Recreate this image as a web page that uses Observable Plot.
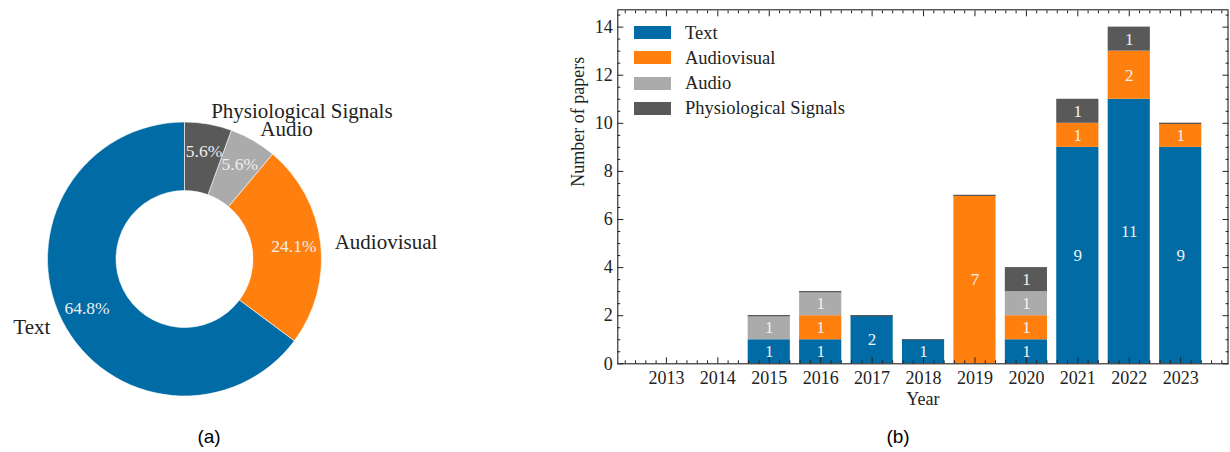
<!DOCTYPE html>
<html>
<head>
<meta charset="utf-8">
<script src="https://cdn.jsdelivr.net/npm/d3@7"></script>
<script src="https://cdn.jsdelivr.net/npm/@observablehq/plot@0.6"></script>
<style>
  html, body { margin: 0; padding: 0; background: #fff; }
  body { width: 1230px; height: 452px; position: relative; overflow: hidden; font-family: "Liberation Serif", serif; color: #222; }
  #pie { position: absolute; left: 0; top: 0; }
  #bar { position: absolute; left: 540px; top: 0; }
  .cap { position: absolute; top: 427px; font-family: "Liberation Sans", Arial, sans-serif; font-size: 19px; line-height: 19px; transform: translateX(-50%); color: #000; }
  #legend { position: absolute; left: 634px; top: 0; }
  .lg { position: absolute; left: 0; height: 20px; white-space: nowrap; }
  .sw { position: absolute; left: 0; top: 3.5px; width: 37px; height: 13px; }
  .lt { position: absolute; left: 51px; top: 0; font-size: 18.5px; line-height: 20px; color: #222; }
</style>
</head>
<body>
<div id="pie"></div>
<div id="bar"></div>
<div id="legend"></div>
<div class="cap" style="left:209px">(a)</div>
<div class="cap" style="left:898px">(b)</div>
<script>
// ---- data ----
const categories = ["Text", "Audiovisual", "Audio", "Physiological Signals"];
const colors = ["#006BA4", "#FF800E", "#ABABAB", "#595959"];
const years = [2013, 2014, 2015, 2016, 2017, 2018, 2019, 2020, 2021, 2022, 2023];
const textCounts        = [0, 0, 1, 1, 2, 1, 0, 1, 9, 11, 9];
const audiovisualCounts = [0, 0, 0, 1, 0, 0, 7, 1, 1, 2, 1];
const audioCounts       = [0, 0, 1, 1, 0, 0, 0, 1, 0, 0, 0];
const physioCounts      = [0, 0, 0, 0, 0, 0, 0, 1, 1, 1, 0];
const yTicks = [0, 2, 4, 6, 8, 10, 12, 14];

const series = [textCounts, audiovisualCounts, audioCounts, physioCounts];
const serif = "Liberation Serif, serif";

// ---- (a) donut ----
const totals = series.map(s => d3.sum(s));
const grand = d3.sum(totals);
const arcs = d3.pie().sort(null).startAngle(0).endAngle(-2 * Math.PI)(totals);
const pieData = arcs.map((a, i) => {
  const mid = (a.startAngle + a.endAngle) / 2;
  return {
    cat: categories[i], color: colors[i], start: a.startAngle, end: a.endAngle,
    pct: (a.value / grand * 100).toFixed(1) + "%",
    lx: 1.1 * Math.sin(mid), ly: 1.1 * Math.cos(mid),
    px: 0.8 * Math.sin(mid), py: 0.8 * Math.cos(mid)
  };
});

function wedges(index, scales) {
  const cx = scales.x(0), cy = scales.y(0), R = scales.x(1) - scales.x(0);
  const arc = d3.arc().innerRadius(R * 0.5).outerRadius(R);
  const g = d3.create("svg:g").attr("transform", `translate(${cx},${cy})`);
  g.selectAll("path").data(pieData).join("path")
    .attr("d", d => arc({startAngle: d.start, endAngle: d.end}))
    .attr("fill", d => d.color)
    .attr("stroke", "#ffffff")
    .attr("stroke-width", 0.6);
  return g.node();
}

const pieW = 450, pieH = 420, R = 137, cx = 184.5, cy = 259;
const pie = Plot.plot({
  width: pieW, height: pieH,
  margin: 0,
  x: {domain: [-cx / R, (pieW - cx) / R], axis: null},
  y: {domain: [-(pieH - cy) / R, cy / R], axis: null},
  style: {fontFamily: serif, background: "transparent"},
  marks: [
    wedges,
    Plot.text(pieData.filter(d => d.lx >= 0), {x: "lx", y: "ly", text: "cat", textAnchor: "start", lineAnchor: "middle", fontSize: 21, fill: "#222"}),
    Plot.text(pieData.filter(d => d.lx < 0), {x: "lx", y: "ly", text: "cat", textAnchor: "end", lineAnchor: "middle", fontSize: 21, fill: "#222"}),
    Plot.text(pieData, {x: "px", y: "py", text: "pct", textAnchor: "middle", lineAnchor: "middle", fontSize: 17.5, fill: "#eeeeee"})
  ]
});
document.getElementById("pie").appendChild(pie);

// ---- (b) stacked bars ----
const half = 0.41;
const rows = [];
const tops = [];
years.forEach((yr, j) => {
  let acc = 0;
  series.forEach((s, i) => {
    const v = s[j];
    rows.push({year: yr, cat: categories[i], value: v, y1: acc, y2: acc + v});
    acc += v;
  });
  if (acc > 0 && physioCounts[j] === 0) tops.push({year: yr, total: acc});
});
const yMinor = d3.range(0, 14.75, 0.5).filter(v => v % 2 !== 0);
const xMinor = d3.range(20122, 20240, 2).map(v => v / 10).filter(v => Math.abs(v - Math.round(v)) > 1e-6);

const bar = Plot.plot({
  width: 690, height: 420,
  marginLeft: 77.3, marginRight: 2.5, marginTop: 9.3, marginBottom: 56.7,
  x: {type: "linear", domain: [2012.055, 2023.92], label: null},
  y: {domain: [0, 14.72], label: null},
  color: {domain: categories, range: colors},
  style: {fontFamily: serif, background: "transparent", color: "#222"},
  marks: [
    Plot.rect(rows.filter(d => d.value > 0), {
      x1: d => d.year - half, x2: d => d.year + half, y1: "y1", y2: "y2", fill: "cat"
    }),
    Plot.ruleY(tops, {y: "total", x1: d => d.year - half, x2: d => d.year + half, stroke: "#595959", strokeWidth: 1.2}),
    Plot.text(rows.filter(d => d.value > 0), {
      x: "year", y: d => (d.y1 + d.y2) / 2, text: d => String(d.value), fill: "#f2f2f2", fontSize: 17, lineAnchor: "middle"
    }),
    Plot.frame({stroke: "#222", strokeWidth: 1.1}),
    Plot.axisY(yTicks, {anchor: "left", tickSize: -6, tickPadding: 11, fontSize: 18, label: null, stroke: "#222"}),
    Plot.axisY(yMinor, {anchor: "left", tickSize: -3, tickFormat: () => "", label: null}),
    Plot.axisY(yTicks, {anchor: "right", tickSize: -6, tickFormat: () => "", label: null}),
    Plot.axisY(yMinor, {anchor: "right", tickSize: -3, tickFormat: () => "", label: null}),
    Plot.axisX(years, {anchor: "bottom", tickSize: -6, tickPadding: 13.5, fontSize: 18, tickFormat: d => String(d), label: null}),
    Plot.axisX(xMinor, {anchor: "bottom", tickSize: -3, tickFormat: () => "", label: null}),
    Plot.axisX(years, {anchor: "top", tickSize: -6, tickFormat: () => "", label: null}),
    Plot.axisX(xMinor, {anchor: "top", tickSize: -3, tickFormat: () => "", label: null}),
    Plot.text(["Number of papers"], {frameAnchor: "left", dx: -40, rotate: -90, fontSize: 18, lineAnchor: "middle", fill: "#222"}),
    Plot.text(["Year"], {frameAnchor: "bottom", dy: 35.5, fontSize: 18, lineAnchor: "middle", fill: "#222"})
  ]
});
document.getElementById("bar").appendChild(bar);

// ---- legend ----
const legend = document.getElementById("legend");
const rowCenters = [32.5, 57.5, 83, 108];
categories.forEach((c, i) => {
  const row = document.createElement("div");
  row.className = "lg";
  row.style.top = (rowCenters[i] - 10) + "px";
  row.innerHTML = `<div class="sw" style="background:${colors[i]}"></div><div class="lt">${c}</div>`;
  legend.appendChild(row);
});
</script>
</body>
</html>
